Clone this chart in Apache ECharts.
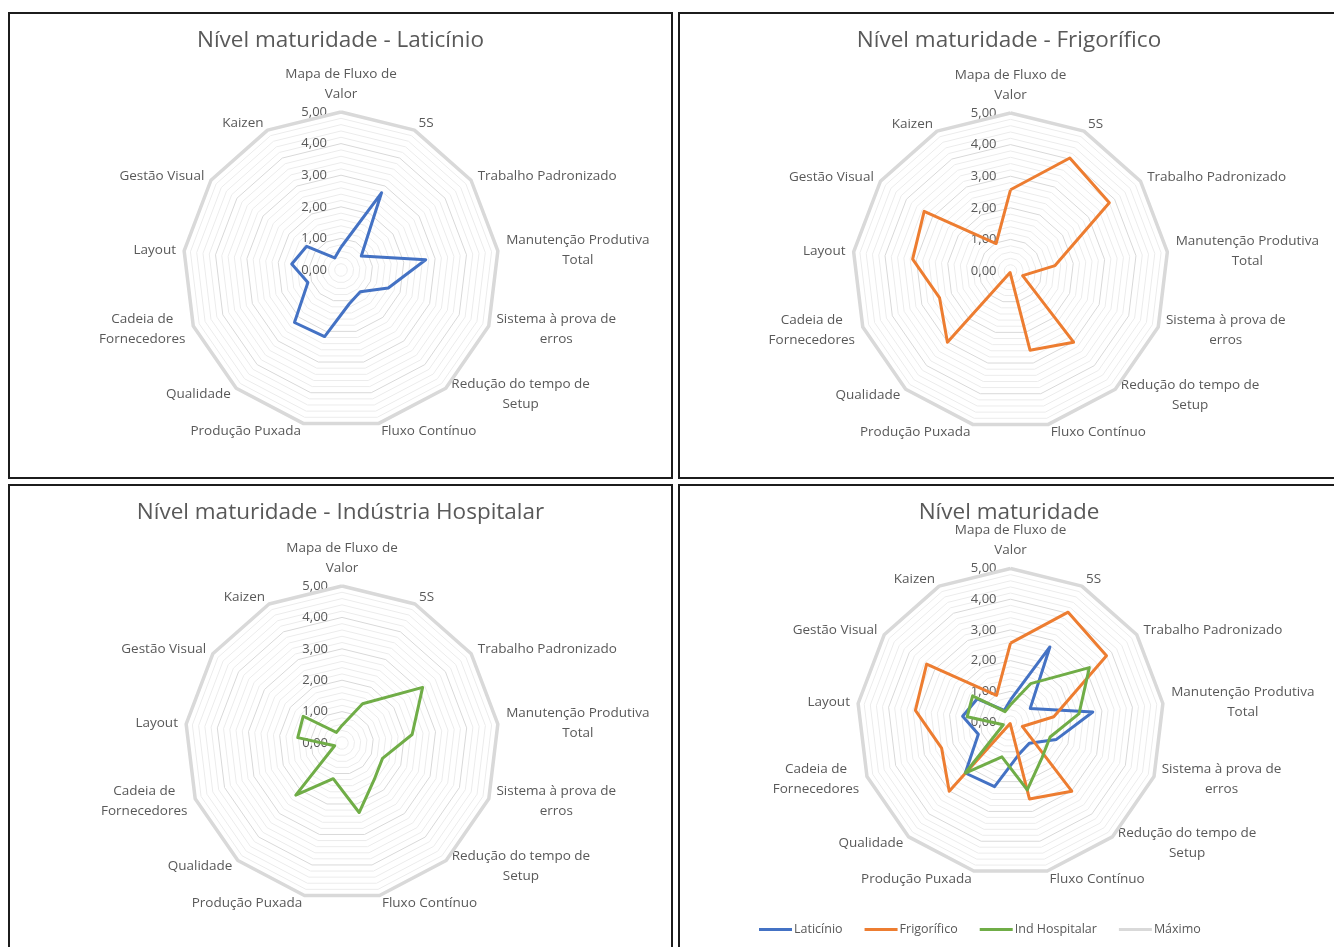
<!DOCTYPE html>
<html lang="pt-BR">
<head>
<meta charset="utf-8">
<title>Nível maturidade</title>
<script src="https://cdn.jsdelivr.net/npm/echarts@6/dist/echarts.min.js"></script>
<style>
  html, body { margin: 0; padding: 0; background: #fff; overflow: hidden; width: 1334px; height: 947px; }
  .painel { position: absolute; }
  .moldura { position: absolute; box-sizing: border-box; border: 2px solid #1c1c1c; pointer-events: none; }
</style>
</head>
<body>
<div id="p1" class="painel" style="left:8px;top:12px;width:665px;height:466px"></div>
<div id="p2" class="painel" style="left:678px;top:12px;width:662px;height:466px"></div>
<div id="p3" class="painel" style="left:8px;top:484px;width:665px;height:470px"></div>
<div id="p4" class="painel" style="left:678px;top:484px;width:662px;height:470px"></div>
<div class="moldura" style="left:8px;top:12px;width:665px;height:467px"></div>
<div class="moldura" style="left:678px;top:12px;width:662px;height:467px"></div>
<div class="moldura" style="left:8px;top:484px;width:665px;height:470px"></div>
<div class="moldura" style="left:678px;top:484px;width:662px;height:470px"></div>
<script>
// Práticas lean avaliadas (sentido horário a partir do topo)
const categorias = [
  'Mapa de Fluxo de\nValor', '5S', 'Trabalho Padronizado', 'Manutenção Produtiva\nTotal',
  'Sistema à prova de\nerros', 'Redução do tempo de\nSetup', 'Fluxo Contínuo', 'Produção Puxada',
  'Qualidade', 'Cadeia de\nFornecedores', 'Layout', 'Gestão Visual', 'Kaizen'
];

// Nível de maturidade por prática (escala 0 a 5)
const laticinio     = [0.72, 2.76, 0.78, 2.70, 1.60, 0.92, 1.10, 2.17, 2.22, 1.12, 1.57, 1.32, 0.43];
const frigorifico   = [2.57, 4.04, 3.80, 1.42, 0.41, 3.01, 2.58, 0.05, 3.01, 2.40, 3.12, 3.32, 0.98];
const indHospitalar = [0.56, 1.41, 3.12, 2.25, 1.38, 1.55, 2.28, 1.17, 2.22, 0.25, 1.42, 1.50, 0.38];
const maximo        = [5, 5, 5, 5, 5, 5, 5, 5, 5, 5, 5, 5, 5];

const nomesSeries = ['Laticínio', 'Frigorífico', 'Ind Hospitalar', 'Máximo'];
const escalaMax = 5;

const FONTE = "'Open Sans', sans-serif";
const CINZA_TEXTO = '#595959';
const CORES = { 'Laticínio': '#4472C4', 'Frigorífico': '#ED7D31', 'Ind Hospitalar': '#70AD47', 'Máximo': '#d9d9d9' };
const TAM_NOME = 13.5;

// O radar do ECharts distribui os eixos no sentido anti-horário:
// mantém o primeiro no topo e inverte os demais para obter o sentido horário.
function horario(lista) {
  return [lista[0]].concat(lista.slice(1).reverse());
}

// Largura do texto para centralizar os rótulos de várias linhas
const medidor = document.createElement('canvas').getContext('2d');
function largura(txt) {
  medidor.font = TAM_NOME + 'px ' + FONTE;
  return Math.ceil(medidor.measureText(txt).width);
}
const estilosNomes = {};
categorias.forEach((c, i) => {
  estilosNomes['n' + i] = {
    width: Math.max.apply(null, c.split('\n').map(largura)),
    align: 'center', color: CINZA_TEXTO, fontSize: TAM_NOME, fontFamily: FONTE, lineHeight: 20
  };
});

function formatoValor(v) {
  return v.toFixed(2).replace('.', ',');
}

function criarOpcao(titulo, series, centro, raio, comLegenda) {
  const indicadores = horario(categorias).map((c, i) => {
    const ind = { name: c, min: 0, max: escalaMax };
    if (i === 0) {
      ind.axisLabel = {
        show: true, color: CINZA_TEXTO, fontSize: 13, fontFamily: FONTE, margin: 14,
        formatter: v => Math.abs(v - Math.round(v)) < 1e-6 ? formatoValor(v) : ''
      };
    }
    return ind;
  });
  const dadosSeries = { 'Laticínio': laticinio, 'Frigorífico': frigorifico, 'Ind Hospitalar': indHospitalar, 'Máximo': maximo };
  const opcao = {
    animation: false,
    title: {
      text: titulo, left: 'center', top: 17, padding: 0,
      textStyle: { color: CINZA_TEXTO, fontSize: 22.5, fontWeight: 'normal', fontFamily: FONTE }
    },
    radar: {
      center: centro, radius: raio, startAngle: 90,
      shape: 'polygon', splitNumber: 25,
      indicator: indicadores,
      axisName: {
        color: CINZA_TEXTO, fontSize: TAM_NOME, fontFamily: FONTE, lineHeight: 20,
        formatter: (nome) => {
          const k = 'n' + categorias.indexOf(nome);
          return nome.split('\n').map(l => '{' + k + '|' + l + '}').join('\n');
        },
        rich: estilosNomes
      },
      nameGap: 8,
      axisLine: { show: false },
      axisTick: { show: false },
      axisLabel: { show: false },
      splitArea: { show: false },
      splitLine: { lineStyle: { color: ['#d9d9d9', '#ececec', '#ececec', '#ececec', '#ececec'], width: 1 } }
    },
    series: series.map(nome => ({
      type: 'radar', name: nome, symbol: 'none', silent: true,
      lineStyle: { color: CORES[nome], width: nome === 'Máximo' ? 3.5 : 3 },
      itemStyle: { color: CORES[nome] },
      data: [{ name: nome, value: horario(dadosSeries[nome]) }]
    }))
  };
  if (comLegenda) {
    opcao.legend = {
      data: nomesSeries, left: 76, top: 434, icon: 'rect', itemWidth: 33, itemHeight: 3, itemGap: 22,
      textStyle: { color: CINZA_TEXTO, fontSize: 12.5, fontFamily: FONTE, padding: [0, 0, 0, -3] }
    };
  }
  return opcao;
}

const paineis = [
  ['p1', 'Nível maturidade - Laticínio', ['Laticínio', 'Máximo'], [333, 258], 158, false],
  ['p2', 'Nível maturidade - Frigorífico', ['Frigorífico', 'Máximo'], [332.5, 259], 158, false],
  ['p3', 'Nível maturidade - Indústria Hospitalar', ['Ind Hospitalar', 'Máximo'], [334, 259], 157, false],
  ['p4', 'Nível maturidade', ['Laticínio', 'Frigorífico', 'Ind Hospitalar', 'Máximo'], [332.5, 238], 153.5, true]
];
paineis.forEach(([id, titulo, series, centro, raio, legenda]) => {
  const grafico = echarts.init(document.getElementById(id), null, { renderer: 'canvas' });
  grafico.setOption(criarOpcao(titulo, series, centro, raio, legenda));
});
</script>
</body>
</html>
